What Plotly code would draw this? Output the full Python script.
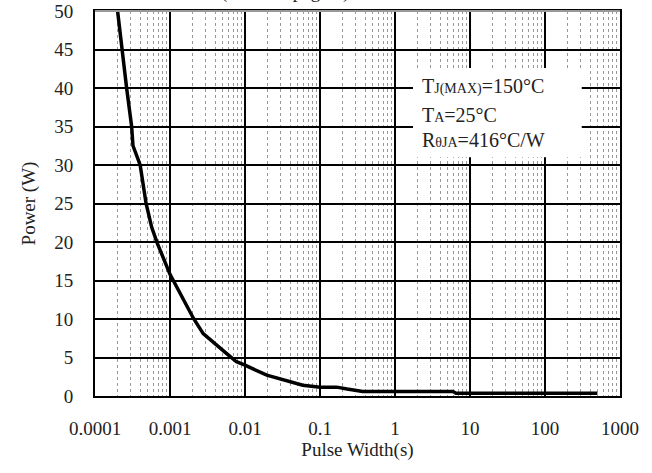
import plotly.graph_objects as go

pulse_width = [0.0002, 0.000227, 0.000264, 0.000308, 0.000321, 0.0004, 0.00048, 0.00057,
               0.00068, 0.001, 0.00205, 0.00277, 0.0046, 0.0057, 0.0077, 0.01, 0.0195,
               0.04, 0.059, 0.1, 0.167, 0.23, 0.37, 5.9, 6.5, 500]
power = [50, 45, 40, 35, 32.5, 30, 25, 21.9,
         19.8, 15.8, 10.1, 8.1, 6.2, 5.5, 4.45, 4.0, 2.7,
         1.85, 1.4, 1.15, 1.15, 0.9, 0.6, 0.6, 0.35, 0.35]

x_tick_vals = [0.0001, 0.001, 0.01, 0.1, 1, 10, 100, 1000]
x_tick_text = ["0.0001", "0.001", "0.01", "0.1", "1", "10", "100", "1000"]
y_tick_vals = [0, 5, 10, 15, 20, 25, 30, 35, 40, 45, 50]

minor_vals = [m * d for d in x_tick_vals[:-1] for m in range(2, 10)]

FONT = "Liberation Serif"
TXT = "#222"

fig = go.Figure()
fig.add_trace(go.Scatter(x=pulse_width, y=power, mode="lines",
                         line=dict(color="black", width=3.5), showlegend=False))

fig.update_layout(
    width=652, height=473,
    margin=dict(l=95, r=32, t=11, b=77),
    paper_bgcolor="white", plot_bgcolor="white",
    font=dict(family=FONT, size=19, color=TXT),
    xaxis=dict(type="log", range=[-4, 3], tickmode="array", tickvals=x_tick_vals,
               ticktext=x_tick_text, showgrid=True, gridcolor="black", gridwidth=2,
               showline=True, linecolor="black", linewidth=2, mirror=True,
               ticks="", zeroline=False, ticklabelstandoff=14, automargin=False,
               minor=dict(tickmode="array", tickvals=minor_vals, showgrid=True,
                          gridcolor="#999", griddash="dot", gridwidth=1, ticks=""),
               title=dict(text="Pulse Width(s)", font=dict(size=19), standoff=4)),
    yaxis=dict(range=[0, 50], tickmode="array", tickvals=y_tick_vals,
               showgrid=True, gridcolor="black", gridwidth=2,
               showline=True, linecolor="black", linewidth=2, mirror=True,
               ticks="", zeroline=False, ticklabelstandoff=16, automargin=False,
               title=dict(text="Power (W)", font=dict(size=19), standoff=14)),
)

# white box for the test conditions
fig.add_shape(type="rect", xref="x", yref="y", x0=10**0.24, x1=10**2.49, y0=31, y1=42.6,
              fillcolor="white", line=dict(width=0), layer="above")

sub = "<span style='font-size:14px'>%s</span>"
lines = ["T" + sub % "J(MAX)" + "=150°C",
         "T" + sub % "A" + "=25°C",
         "R" + sub % "θJA" + "=416°C/W"]
ys = [40.3, 36.5, 33.2]
for t, yv in zip(lines, ys):
    # annotation x on a log axis is given in log10 units
    fig.add_annotation(x=0.33, y=yv, xref="x", yref="y", text=t, showarrow=False,
                       xanchor="left", yanchor="middle", font=dict(size=20, color=TXT))

fig.add_annotation(x=0.362, y=1.0, xref="paper", yref="paper", text="(Note on page 2)",
                   showarrow=False, xanchor="center", yanchor="bottom", yshift=6,
                   font=dict(size=19, color=TXT))

# top border is gray in the reference
fig.add_shape(type="line", xref="paper", yref="paper", x0=0, x1=1, y0=1, y1=1,
              line=dict(color="#999", width=2), layer="above")

fig.write_html("out.html")
